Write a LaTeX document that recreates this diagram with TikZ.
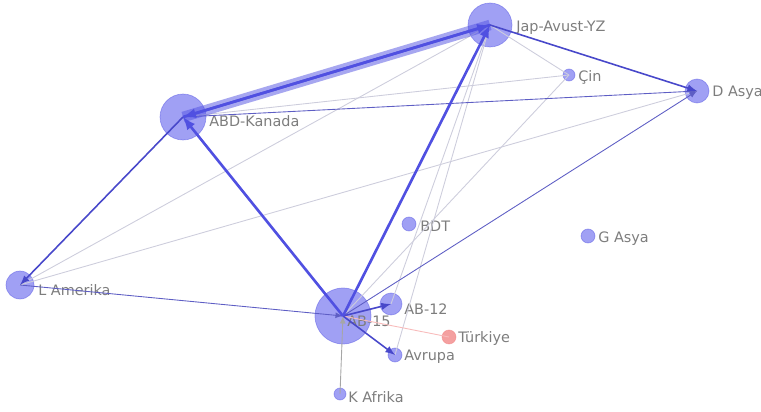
\documentclass[tikz,border=0pt]{standalone}
\usepackage{fontspec}
\setmainfont{DejaVu Sans}
\usepackage{xcolor}
\usepackage{tikz}
\usetikzlibrary{arrows}

\definecolor{netblue}{RGB}{80,80,225}
\definecolor{dotblue}{RGB}{120,120,240}
\definecolor{faintgray}{RGB}{205,205,220}
\definecolor{tkred}{RGB}{240,120,120}
\definecolor{lblgray}{RGB}{125,125,125}

\begin{document}
\begin{tikzpicture}[x=0.02cm,y=-0.02cm,
    dot/.style={circle, inner sep=0pt, fill=dotblue, fill opacity=0.7,
      draw=netblue, draw opacity=0.45, line width=0.4pt},
    lbl/.style={anchor=west, inner sep=0pt, text=lblgray,
      font=\fontsize{8.2}{10}\selectfont},
    heavy/.style={netblue, line width=6pt, opacity=0.5},
    strong/.style={netblue, line width=1.5pt, -latex},
    medium/.style={netblue!90!black, line width=0.9pt, -latex},
    thin/.style={netblue!70!gray, line width=0.5pt, -latex},
    faint/.style={faintgray, line width=0.5pt}]
\useasboundingbox (0,0) rectangle (761,412);
% nodes
\node[dot, minimum size=0.88cm] (jap) at (490,25) {};
\node[dot, minimum size=0.92cm] (abd) at (183,117) {};
\node[dot, minimum size=0.24cm] (cin) at (569,75) {};
\node[dot, minimum size=0.48cm] (dasya) at (697,91) {};
\node[dot, minimum size=0.28cm] (bdt) at (409,224) {};
\node[dot, minimum size=0.28cm] (gasya) at (588,236) {};
\node[dot, minimum size=0.56cm] (lam) at (20,285) {};
\node[dot, minimum size=1.12cm] (ab15) at (343,316) {};
\node[dot, minimum size=0.44cm] (ab12) at (391,304) {};
\node[dot, minimum size=0.28cm, fill=tkred, draw=tkred] (tur) at (449,337) {};
\node[dot, minimum size=0.28cm] (avr) at (395,355) {};
\node[dot, minimum size=0.24cm] (kaf) at (340,394) {};
%
\node[lbl] (jap-l) at (516,28) {Jap-Avust-YZ};
\node[lbl] (cin-l) at (578,77) {Çin};
\node[lbl] (dasya-l) at (712,93) {D Asya};
\node[lbl] (abd-l) at (209,121) {ABD-Kanada};
\node[lbl] (bdt-l) at (420,226) {BDT};
\node[lbl] (gasya-l) at (598,239) {G Asya};
\node[lbl] (lam-l) at (38,290) {L Amerika};
\node[lbl] (ab12-l) at (404,309) {AB-12};
\node[lbl] (ab15-l) at (347,321) {AB-15};
\node[lbl] (tur-l) at (458,339) {Türkiye};
\node[lbl] (avr-l) at (404,357) {Avrupa};
\node[lbl] (kaf-l) at (348,397) {K Afrika};
% faint edges
\draw[faint] (lam.center) -- (jap.center);
\draw[faint] (lam.center) -- (dasya.center);
\draw[faint] (abd.center) -- (cin.center);
\draw[faint] (abd.center) -- (ab15.center);
\draw[faint] (jap.center) -- (cin.center);
\draw[faint] (cin.center) -- (ab15.center);
\draw[faint] (jap.center) -- (ab12.center);
\draw[faint] (jap.center) -- (avr.center);
\draw[faint] (jap.center) -- (ab15.center);
\draw[faint, tkred!50] (ab15.center) -- (tur.center);
% blue edges
\draw[thin] (abd.center) -- (dasya.center);
\draw[thin] (ab15.center) -- (dasya.center);
\draw[thin] (lam.center) -- (ab15.center);
\draw[thin, gray!70] (kaf.center) -- (ab15.center);
\draw[medium] (jap.center) -- (dasya.center);
\draw[medium] (abd.center) -- (lam.center);
\draw[medium] (ab15.center) -- (ab12.center);
\draw[medium] (ab15.center) -- (avr.center);
\draw[strong] (ab15.center) -- (abd.center);
\draw[strong] (ab15.center) -- (jap.center);
\draw[heavy] (abd.center) -- (jap.center);
\draw[strong] (abd.center) -- (jap.center);
\draw[strong] (jap.center) -- (abd.center);
\end{tikzpicture}
\end{document}
